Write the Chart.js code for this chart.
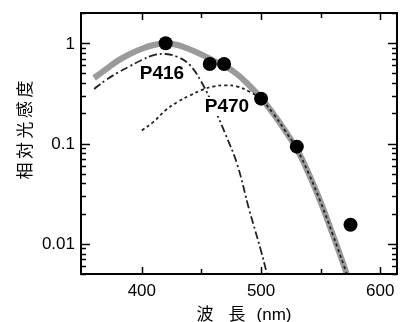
<!DOCTYPE html>
<html>
<head>
<meta charset="utf-8">
<script src="https://cdn.jsdelivr.net/npm/chart.js@4.4.1/dist/chart.umd.min.js"></script>
<style>
  html, body { margin: 0; padding: 0; background: #fff; }
  #wrap { width: 404px; height: 322px; }
</style>
</head>
<body>
<div id="wrap"><canvas id="c" width="404" height="322"></canvas></div>
<script>
// measured points (nm, relative sensitivity)
const pointNm  = [420, 457, 469, 500, 530, 575];
const pointVal = [1.0, 0.62, 0.62, 0.28, 0.093, 0.0155];

// thick grey fit
const fitNm  = [360, 370, 380, 390, 400, 410, 420, 430, 440, 450, 460, 470, 480, 490, 500, 510, 520, 530, 540, 550, 560, 570, 576];
const fitVal = [0.45, 0.55, 0.67, 0.78, 0.88, 0.96, 1.0, 0.96, 0.87, 0.77, 0.67, 0.59, 0.49, 0.38, 0.285, 0.2, 0.135, 0.088, 0.05, 0.026, 0.0125, 0.0058, 0.0035];

// P416 template (dash-dot)
const p416Nm  = [360, 370, 380, 390, 400, 410, 420, 430, 440, 450, 460, 470, 480, 490, 500, 505, 510];
const p416Val = [0.35, 0.43, 0.51, 0.59, 0.68, 0.76, 0.78, 0.73, 0.61, 0.41, 0.235, 0.125, 0.062, 0.022, 0.0085, 0.005, 0.003];

// P470 template (dotted)
const p470Nm  = [400, 410, 420, 430, 440, 450, 460, 470, 480, 490, 500, 510, 520, 530, 540, 550, 560, 570, 576];
const p470Val = [0.135, 0.165, 0.215, 0.26, 0.30, 0.34, 0.37, 0.38, 0.37, 0.33, 0.275, 0.2, 0.135, 0.088, 0.05, 0.026, 0.0125, 0.0058, 0.0035];

const xTickLabels = [400, 500, 600];
const xMinorTicks = [350, 450, 550];
const yTickLabels = [0.01, 0.1, 1];
const yTickText   = ['0.01', '0.1', '1'];

const toXY = (xs, ys) => xs.map((v, i) => ({ x: v, y: ys[i] }));

const sansFont = "'Liberation Sans', Arial, sans-serif";
const cjkFont = "'Noto Sans CJK JP', sans-serif";

const decor = {
  id: 'decor',
  afterDatasetsDraw(chart) {
    const { ctx, chartArea: a, scales: { x, y } } = chart;
    ctx.save();

    // curve labels
    ctx.font = 'bold 19px ' + sansFont;
    ctx.textAlign = 'center';
    ctx.textBaseline = 'middle';
    ctx.fillStyle = '#000';
    ctx.fillText('P416', 162, 74);
    ctx.fillStyle = '#fff';
    ctx.fillRect(202, 97, 50, 19);
    ctx.fillStyle = '#000';
    ctx.fillText('P470', 227, 107);

    // frame
    ctx.strokeStyle = '#000';
    ctx.lineWidth = 2;
    ctx.strokeRect(a.left, a.top, a.right - a.left, a.bottom - a.top);

    // x ticks, inside on top and bottom
    ctx.lineWidth = 1.5;
    xTickLabels.concat(xMinorTicks).forEach(v => {
      const px = Math.round(x.getPixelForValue(v)) + 0.5;
      if (px < a.left + 2 || px > a.right - 2) return;
      const len = xTickLabels.includes(v) ? 7 : 5;
      ctx.beginPath();
      ctx.moveTo(px, a.bottom); ctx.lineTo(px, a.bottom - len);
      ctx.moveTo(px, a.top); ctx.lineTo(px, a.top + len);
      ctx.stroke();
    });

    // y ticks (log decades), inside on left and right
    [0.001, 0.01, 0.1, 1].forEach(d => {
      for (let m = 1; m <= 9; m++) {
        const v = m * d;
        if (v < y.min || v > y.max) continue;
        const py = Math.round(y.getPixelForValue(v)) + 0.5;
        const len = m === 1 ? 9 : 5;
        ctx.beginPath();
        ctx.moveTo(a.left, py); ctx.lineTo(a.left + len, py);
        ctx.moveTo(a.right, py); ctx.lineTo(a.right - len, py);
        ctx.stroke();
      }
    });

    // tick labels
    ctx.font = '17px ' + sansFont;
    ctx.textBaseline = 'middle';
    ctx.textAlign = 'center';
    xTickLabels.forEach(v => ctx.fillText(String(v), x.getPixelForValue(v), 291));
    ctx.textAlign = 'right';
    yTickLabels.forEach((v, i) => ctx.fillText(yTickText[i], 75, y.getPixelForValue(v) + 1));

    // x title
    ctx.textAlign = 'center';
    ctx.font = '17px ' + cjkFont;
    ctx.fillText('波', 205, 314);
    ctx.fillText('長', 237, 314);
    ctx.font = '17px ' + sansFont;
    ctx.fillText('(nm)', 274, 315);

    // y title, rotated
    ctx.font = '17px ' + cjkFont;
    ctx.translate(25, 130);
    ctx.rotate(-Math.PI / 2);
    Array.from('相対光感度').forEach((ch, i) => ctx.fillText(ch, (i - 2) * 20.5, 0));

    ctx.restore();
  }
};

new Chart(document.getElementById('c'), {
  type: 'line',
  data: {
    datasets: [
      { order: 3, data: toXY(fitNm, fitVal), borderColor: '#9a9a9a', borderWidth: 6, pointRadius: 0, tension: 0.4, borderCapStyle: 'butt' },
      { order: 2, data: toXY(p416Nm, p416Val), borderColor: '#222', borderWidth: 1.8, borderDash: [8, 3, 2, 3], pointRadius: 0, tension: 0.4 },
      { order: 1, data: toXY(p470Nm, p470Val), borderColor: '#222', borderWidth: 1.8, borderDash: [3, 3], pointRadius: 0, tension: 0.4 },
      { order: 0, data: toXY(pointNm, pointVal), showLine: false, pointRadius: 7, pointBackgroundColor: '#000', pointBorderColor: '#000', pointBorderWidth: 0 }
    ]
  },
  options: {
    responsive: false,
    animation: false,
    devicePixelRatio: 1,
    layout: { padding: { left: 81, top: 13, right: 1, bottom: 48 } },
    plugins: { legend: { display: false }, tooltip: { enabled: false } },
    scales: {
      x: { type: 'linear', min: 349, max: 614, display: false },
      y: { type: 'logarithmic', min: 0.005, max: 2, display: false }
    }
  },
  plugins: [decor]
});
</script>
</body>
</html>
